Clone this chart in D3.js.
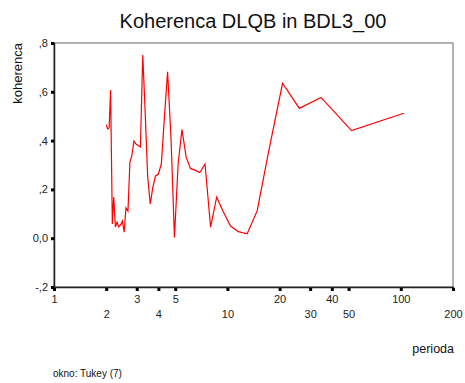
<!DOCTYPE html>
<html>
<head>
<meta charset="utf-8">
<script src="https://cdn.jsdelivr.net/npm/d3@7"></script>
<style>
  body { margin: 0; background: #fff; }
  svg { font-family: Arial, "Liberation Sans", sans-serif; }
</style>
</head>
<body>
<div id="chart"></div>
<script>
// periode (104 / k) in koherenca
const periode = [104, 52, 34.67, 26, 20.8, 17.33, 14.86, 13, 11.56, 10.4, 9.45, 8.67, 8,
  7.43, 6.93, 6.5, 6.12, 5.78, 5.47, 5.2, 4.95, 4.73, 4.52, 4.33, 4.16, 4, 3.85, 3.71,
  3.59, 3.47, 3.35, 3.25, 3.15, 3.06, 2.97, 2.89, 2.81, 2.74, 2.67, 2.6, 2.54, 2.48,
  2.42, 2.36, 2.31, 2.26, 2.21, 2.17, 2.12, 2.08, 2.04, 2];
const koherenca = [0.512, 0.441, 0.577, 0.532, 0.635, 0.359, 0.113, 0.018, 0.027, 0.051,
  0.109, 0.168, 0.045, 0.304, 0.269, 0.279, 0.286, 0.333, 0.445, 0.306, 0.003, 0.409,
  0.682, 0.493, 0.305, 0.263, 0.255, 0.206, 0.14, 0.251, 0.53, 0.751, 0.374, 0.38,
  0.386, 0.398, 0.337, 0.312, 0.111, 0.124, 0.025, 0.07, 0.054, 0.046, 0.066, 0.046,
  0.169, 0.058, 0.607, 0.452, 0.448, 0.465];

const xTicks = [1, 2, 3, 4, 5, 10, 20, 30, 40, 50, 100, 200];
const yTicks = [-0.2, 0, 0.2, 0.4, 0.6, 0.8];
const yTickLabels = ["-,2", "0,0", ",2", ",4", ",6", ",8"];

const width = 465;
const height = 383;
const plot = { left: 54, right: 453, top: 43, bottom: 287 };

const svg = d3.select("#chart")
  .append("svg")
  .attr("width", width)
  .attr("height", height);

const x = d3.scaleLog().domain([1, 200]).range([plot.left, plot.right]);
const y = d3.scaleLinear().domain([-0.2, 0.8]).range([plot.bottom, plot.top]);

// okvir
svg.append("rect")
  .attr("x", plot.left)
  .attr("y", plot.top)
  .attr("width", plot.right - plot.left)
  .attr("height", plot.bottom - plot.top)
  .attr("fill", "none")
  .attr("stroke", "#666")
  .attr("stroke-width", 1);

const yAxisG = svg.append("g")
  .attr("transform", `translate(${plot.left},0)`)
  .call(d3.axisLeft(y)
    .tickValues(yTicks)
    .tickSize(3)
    .tickPadding(3)
    .tickFormat((d, i) => yTickLabels[i]));

const xAxisG = svg.append("g")
  .attr("transform", `translate(0,${plot.bottom + 1})`)
  .call(d3.axisBottom(x)
    .tickValues(xTicks)
    .tickSize(3)
    .tickPadding(5)
    .tickFormat(d3.format("d")));

[yAxisG, xAxisG].forEach((g) => {
  g.select(".domain").attr("stroke", "#222").attr("stroke-width", 1.5);
  g.selectAll(".tick line").attr("stroke", "#000").attr("stroke-width", 3);
  g.selectAll(".tick text")
    .attr("fill", "#222")
    .style("font-size", "11px")
    .style("font-family", "Arial, 'Liberation Sans', sans-serif");
});
xAxisG.select(".domain").attr("transform", "translate(0,-1)");

// oznake na x osi v dveh vrsticah
xAxisG.selectAll(".tick text")
  .attr("y", (d, i) => (i % 2 === 0 ? 7 : 22));

svg.append("path")
  .datum(periode.map((p, i) => [p, koherenca[i]]))
  .attr("fill", "none")
  .attr("stroke", "#ff0000")
  .attr("stroke-width", 1.2)
  .attr("d", d3.line().x((d) => x(d[0])).y((d) => y(d[1])));

svg.append("text")
  .attr("x", 253)
  .attr("y", 28)
  .attr("text-anchor", "middle")
  .attr("fill", "#111")
  .style("font-size", "20px")
  .text("Koherenca DLQB in BDL3_00");

svg.append("text")
  .attr("transform", "translate(22,43) rotate(-90)")
  .attr("text-anchor", "end")
  .attr("fill", "#111")
  .style("font-size", "13px")
  .text("koherenca");

svg.append("text")
  .attr("x", 454)
  .attr("y", 353)
  .attr("text-anchor", "end")
  .attr("fill", "#111")
  .style("font-size", "12.5px")
  .text("perioda");

svg.append("text")
  .attr("x", 53)
  .attr("y", 377)
  .attr("fill", "#111")
  .style("font-size", "10px")
  .text("okno: Tukey (7)");
</script>
</body>
</html>
